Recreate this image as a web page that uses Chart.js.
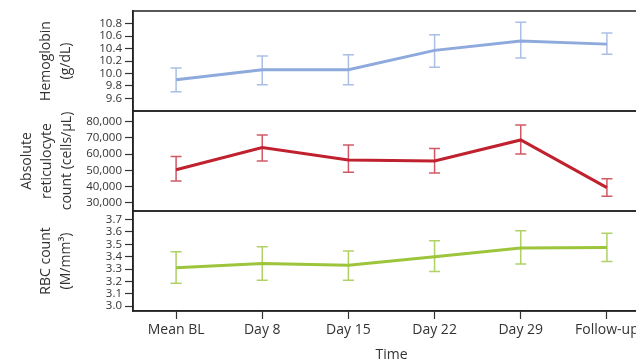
<!DOCTYPE html>
<html>
<head>
<meta charset="utf-8">
<script src="https://cdn.jsdelivr.net/npm/chart.js@4.4.1/dist/chart.umd.min.js"></script>
<style>
  html, body { margin: 0; padding: 0; overflow: hidden; background: #fff; }
</style>
</head>
<body>
<canvas id="chart" width="650" height="365"></canvas>
<script>
var categories = ["Mean BL", "Day 8", "Day 15", "Day 22", "Day 29", "Follow-up"];

var hbMean = [9.90, 10.06, 10.06, 10.37, 10.52, 10.47];
var hbLow  = [9.71, 9.82, 9.82, 10.10, 10.25, 10.31];
var hbHigh = [10.09, 10.28, 10.30, 10.62, 10.82, 10.65];

var retMean = [50400, 64000, 56400, 55800, 68700, 39400];
var retLow  = [43500, 55800, 48900, 48400, 60000, 34000];
var retHigh = [58500, 71800, 65600, 63400, 77900, 44900];

var rbcMean = [3.31, 3.345, 3.33, 3.40, 3.47, 3.475];
var rbcLow  = [3.185, 3.21, 3.21, 3.28, 3.34, 3.36];
var rbcHigh = [3.44, 3.48, 3.445, 3.53, 3.61, 3.59];

var hbTicks = [9.6, 9.8, 10.0, 10.2, 10.4, 10.6, 10.8];
var retTicks = [30000, 40000, 50000, 60000, 70000, 80000];
var rbcTicks = [3.0, 3.1, 3.2, 3.3, 3.4, 3.5, 3.6, 3.7];

var textColor = "#333";
var fontFamily = "'Open Sans', sans-serif";

// error bars, drawn under the lines
var errorBars = {
  id: "errorBars",
  beforeDatasetsDraw: function (chart) {
    var ctx = chart.ctx;
    chart.data.datasets.forEach(function (ds, i) {
      var meta = chart.getDatasetMeta(i);
      var ys = meta.yScale;
      ctx.save();
      ctx.strokeStyle = ds.errColor;
      ctx.lineWidth = 1.5;
      meta.data.forEach(function (pt, j) {
        var x = pt.x;
        var y1 = ys.getPixelForValue(ds.errLow[j]);
        var y2 = ys.getPixelForValue(ds.errHigh[j]);
        ctx.beginPath();
        ctx.moveTo(x, y1); ctx.lineTo(x, y2);
        ctx.moveTo(x - 5.5, y1); ctx.lineTo(x + 5.5, y1);
        ctx.moveTo(x - 5.5, y2); ctx.lineTo(x + 5.5, y2);
        ctx.stroke();
      });
      ctx.restore();
    });
  }
};

// box round each panel
var panelFrames = {
  id: "panelFrames",
  afterDraw: function (chart) {
    var ctx = chart.ctx, area = chart.chartArea;
    ctx.save();
    ctx.strokeStyle = "#222";
    ctx.lineWidth = 1.5;
    ["yHb", "yRet", "yRbc"].forEach(function (id) {
      var s = chart.scales[id];
      ctx.strokeRect(area.left, s.top, area.right - area.left, s.bottom - s.top);
    });
    ctx.restore();
  }
};

function yAxis(title, pad, min, max, tickList, fmt) {
  return {
    type: "linear",
    position: "left",
    stack: "panels",
    stackWeight: 1,
    min: min,
    max: max,
    afterBuildTicks: function (s) { s.ticks = tickList.map(function (v) { return { value: v }; }); },
    afterFit: function (s) { s.width = 133; },
    border: { display: true, color: "#222", width: 1.5 },
    grid: { drawOnChartArea: false, tickLength: 8, color: "#333", tickWidth: 1.2 },
    ticks: {
      padding: 3, color: textColor, autoSkip: false,
      font: { family: fontFamily, size: 11.5, lineHeight: 1 },
      callback: function (v) { return fmt(v); }
    },
    title: {
      display: true, text: title, color: textColor,
      font: { family: fontFamily, size: 14, lineHeight: "20px" },
      padding: { top: pad, bottom: 0 }
    }
  };
}

new Chart(document.getElementById("chart"), {
  type: "line",
  data: {
    labels: categories,
    datasets: [
      { data: hbMean, errLow: hbLow, errHigh: hbHigh, yAxisID: "yHb",
        borderColor: "#8eaadc", errColor: "rgba(142,170,220,0.75)" },
      { data: retMean, errLow: retLow, errHigh: retHigh, yAxisID: "yRet",
        borderColor: "#c0212f", errColor: "rgba(192,33,47,0.75)" },
      { data: rbcMean, errLow: rbcLow, errHigh: rbcHigh, yAxisID: "yRbc",
        borderColor: "#9cc53c", errColor: "rgba(156,197,60,0.8)" }
    ]
  },
  options: {
    responsive: false,
    animation: false,
    layout: { padding: { top: 11, right: 0, left: 0, bottom: 0 } },
    elements: {
      line: { borderWidth: 3, tension: 0 },
      point: { radius: 0, hoverRadius: 0 }
    },
    plugins: { legend: { display: false }, tooltip: { enabled: false } },
    scales: {
      x: {
        type: "category",
        offset: true,
        afterFit: function (s) { s.height = 54; },
        border: { display: true, color: "#222", width: 1.5 },
        grid: { drawOnChartArea: false, tickLength: 8, color: "#333", tickWidth: 1.2 },
        ticks: { padding: 3, color: textColor, font: { family: fontFamily, size: 14 }, maxRotation: 0, autoSkip: false },
        title: { display: true, text: "Time", color: textColor,
          font: { family: fontFamily, size: 14, lineHeight: "20px" }, padding: 0 }
      },
      yRbc: yAxis(["RBC count", "(M/mm³)"], 36, 2.96, 3.77, rbcTicks, function (v) { return v.toFixed(1); }),
      yRet: yAxis(["Absolute", "reticulocyte", "count (cells/µL)"], 17, 25000, 86500, retTicks, function (v) { return v.toLocaleString("en-US"); }),
      yHb: yAxis(["Hemoglobin", "(g/dL)"], 36, 9.4, 11.0, hbTicks, function (v) { return v.toFixed(1); })
    }
  },
  plugins: [errorBars, panelFrames]
});
</script>
</body>
</html>
